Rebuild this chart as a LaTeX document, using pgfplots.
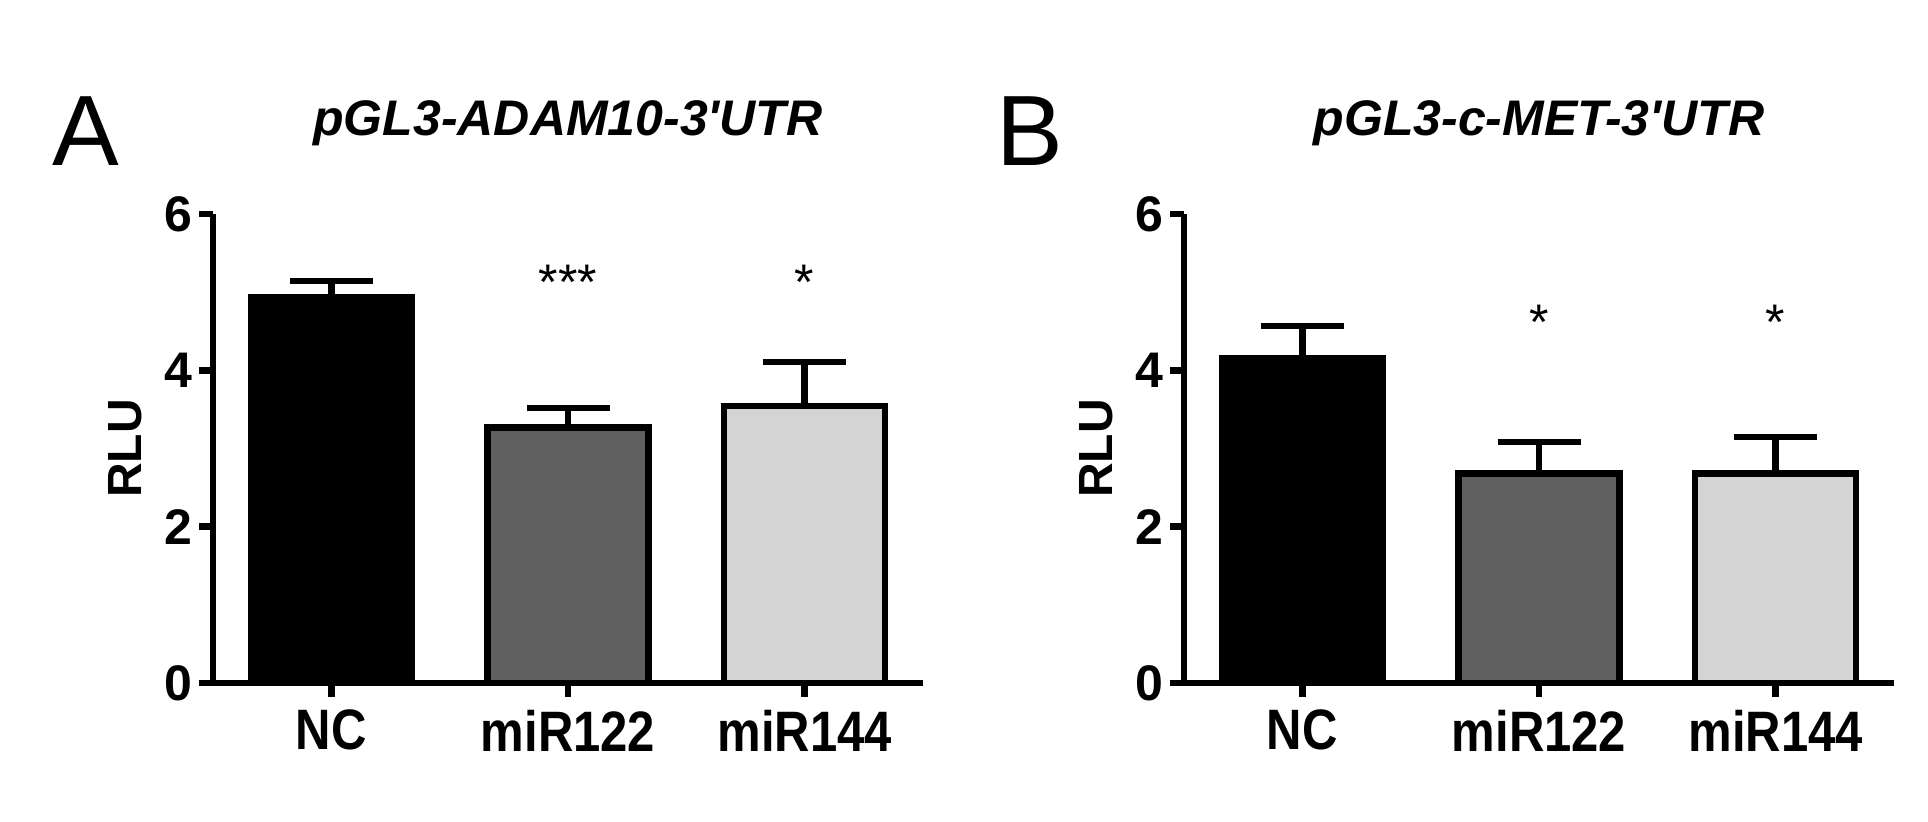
\documentclass[border=0pt]{standalone}
\usepackage{pgfplots}
\pgfplotsset{compat=1.18}
\usepackage{fontspec}
\setmainfont{Liberation Sans}
\newfontfamily\narrowfont{Liberation Sans}[FakeStretch=0.86]
\definecolor{dgray}{RGB}{96,96,96}
\definecolor{lgray}{RGB}{212,212,212}
\pgfplotsset{
  rlu/.style={
    scale only axis, width=355pt, height=234.5pt,
    xmin=-0.5, xmax=2.5, ymin=0, ymax=6,
    axis x line*=bottom, axis y line*=left,
    axis line style={line width=3.2pt},
    ytick={0,2,4,6}, xtick={0,1,2}, xticklabels={NC,miR122,miR144},
    tick align=outside, major tick length=7pt,
    tick style={line width=3.2pt, black},
    yticklabel style={font=\bfseries\fontsize{25}{30}\selectfont},
    xticklabel style={font=\narrowfont\bfseries\fontsize{28.5}{32}\selectfont, yshift=-3pt},
    /pgf/number format/assume math mode=true,
    ylabel={RLU},
    ylabel style={font=\bfseries\fontsize{24}{28}\selectfont, at={(axis description cs:-0.124,0.5)}, anchor=center},
    title style={font=\bfseries\itshape\fontsize{25}{30}\selectfont, at={(axis description cs:0.5,1)}, anchor=base, yshift=33pt},
    ybar, bar width=0.68, clip=false,
    error bars/y dir=plus, error bars/y explicit,
    error bars/error bar style={line width=3.2pt, black},
    error bars/error mark options={rotate=90, line width=3.2pt, black, mark size=20.75pt},
  }
}
\begin{document}
\begin{tikzpicture}
\path (0,0) rectangle (964pt,411pt);
\node[font=\fontsize{50}{54}\selectfont] at (42.75pt,345.5pt) {A};
\node[font=\fontsize{50}{54}\selectfont] at (515pt,345.5pt) {B};
\begin{axis}[rlu, at={(106.5pt,69.5pt)}, anchor=south west,
  title={pGL3-ADAM10-3\textquotesingle UTR}]
\addplot[fill=black, draw=black, line width=3.2pt, bar shift=0pt] coordinates {(0,4.93) +- (0,0.21)};
\addplot[fill=dgray, draw=black, line width=3.2pt, bar shift=0pt] coordinates {(1,3.27) +- (0,0.25)};
\addplot[fill=lgray, draw=black, line width=3.2pt, bar shift=0pt] coordinates {(2,3.54) +- (0,0.57)};
\node[anchor=base, font=\fontsize{25}{30}\selectfont] at (axis cs:1,4.91) {***};
\node[anchor=base, font=\fontsize{25}{30}\selectfont] at (axis cs:2,4.91) {*};
\end{axis}
\begin{axis}[rlu, at={(592pt,69.5pt)}, anchor=south west,
  title={pGL3-c-MET-3\textquotesingle UTR}]
\addplot[fill=black, draw=black, line width=3.2pt, bar shift=0pt] coordinates {(0,4.16) +- (0,0.41)};
\addplot[fill=dgray, draw=black, line width=3.2pt, bar shift=0pt] coordinates {(1,2.68) +- (0,0.40)};
\addplot[fill=lgray, draw=black, line width=3.2pt, bar shift=0pt] coordinates {(2,2.68) +- (0,0.47)};
\node[anchor=base, font=\fontsize{25}{30}\selectfont] at (axis cs:1,4.40) {*};
\node[anchor=base, font=\fontsize{25}{30}\selectfont] at (axis cs:2,4.40) {*};
\end{axis}
\end{tikzpicture}
\end{document}
